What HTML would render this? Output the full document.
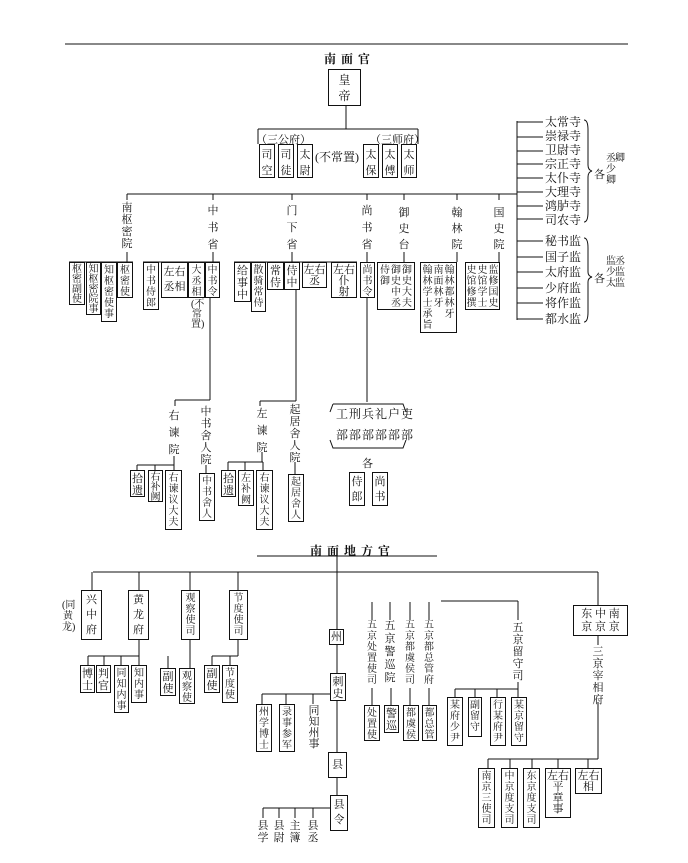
<!DOCTYPE html>
<html><head><meta charset="utf-8">
<style>
html,body{margin:0;padding:0;background:#fff;}
#c{position:relative;width:688px;height:863px;overflow:hidden;background:#fff;font-family:"Liberation Serif","Noto Serif CJK SC","Noto Sans CJK SC",serif;color:#111;}
svg{position:absolute;left:0;top:0;}
.bx{position:absolute;border:1px solid #111;background:#fff;display:flex;flex-direction:row;justify-content:center;align-items:flex-start;padding-top:2px;box-sizing:border-box;gap:1px;font-size:11px;line-height:13px;}
.bx span{display:block;width:11px;word-break:break-all;text-align:center;}
.bx[style*="line-height:11px"],.bx[style*="line-height:10px"]{font-size:10px;}
.bx[style*="line-height:11px"] span,.bx[style*="line-height:10px"] span{width:10px;}
.lb{position:absolute;font-size:11px;width:12px;word-break:break-all;text-align:center;line-height:13px;}
.t{position:absolute;font-size:12px;white-space:nowrap;font-weight:bold;letter-spacing:5px;}
.s{position:absolute;font-size:11px;white-space:nowrap;}
.hz{position:absolute;border:1px solid #111;background:#fff;box-sizing:border-box;font-size:11px;line-height:13px;text-align:center;padding-top:2px;}
</style></head><body><div id="c">
<svg width="688" height="863" stroke="#111" stroke-width="1" fill="none">
<line x1="65" y1="44" x2="628" y2="44"/>
<line x1="346" y1="105" x2="346" y2="129"/>
<line x1="258" y1="129" x2="418" y2="129"/>
<line x1="258" y1="129" x2="258" y2="144"/><line x1="418" y1="129" x2="418" y2="144"/>
<line x1="127" y1="194" x2="517" y2="194"/>
<line x1="517" y1="121" x2="517" y2="320"/>
<g>
<line x1="517" y1="122" x2="543" y2="122"/><line x1="517" y1="137" x2="543" y2="137"/><line x1="517" y1="151" x2="543" y2="151"/><line x1="517" y1="164" x2="543" y2="164"/><line x1="517" y1="178" x2="543" y2="178"/><line x1="517" y1="192" x2="543" y2="192"/><line x1="517" y1="206" x2="543" y2="206"/><line x1="517" y1="219" x2="543" y2="219"/>
<line x1="517" y1="241" x2="543" y2="241"/><line x1="517" y1="257" x2="543" y2="257"/><line x1="517" y1="272" x2="543" y2="272"/><line x1="517" y1="288" x2="543" y2="288"/><line x1="517" y1="303" x2="543" y2="303"/><line x1="517" y1="319" x2="543" y2="319"/>
<path d="M584 120 Q588 120 588 130 L588 165 Q588 170 592 171 Q588 172 588 177 L588 212 Q588 222 584 222"/>
<path d="M584 238 Q588 238 588 248 L588 272 Q588 276 592 277 Q588 278 588 282 L588 312 Q588 322 584 322"/>
</g>
<line x1="127" y1="194" x2="127" y2="200"/><line x1="213" y1="194" x2="213" y2="200"/><line x1="292" y1="194" x2="292" y2="200"/><line x1="367" y1="194" x2="367" y2="200"/><line x1="404" y1="194" x2="404" y2="200"/><line x1="457" y1="194" x2="457" y2="200"/><line x1="499" y1="194" x2="499" y2="200"/>
<line x1="127" y1="252" x2="127" y2="262"/><line x1="213" y1="252" x2="213" y2="262"/><line x1="292" y1="252" x2="292" y2="262"/><line x1="367" y1="252" x2="367" y2="262"/><line x1="404" y1="252" x2="404" y2="262"/><line x1="457" y1="252" x2="457" y2="262"/><line x1="499" y1="252" x2="499" y2="262"/>
<line x1="69" y1="262" x2="133" y2="262"/><line x1="143" y1="262" x2="220" y2="262"/><line x1="234" y1="262" x2="357" y2="262"/>
<line x1="210" y1="298" x2="210" y2="400"/><line x1="175" y1="400" x2="210" y2="400"/><line x1="175" y1="400" x2="175" y2="406"/>
<line x1="296" y1="290" x2="296" y2="401"/><line x1="260" y1="401" x2="296" y2="401"/><line x1="260" y1="401" x2="260" y2="406"/>
<line x1="367" y1="298" x2="367" y2="402"/>
<path d="M333 404 L330 412 M330 440 L333 448 L403 448 L406 440 M406 412 L403 404 L333 404"/>
<line x1="174" y1="456" x2="174" y2="465"/><line x1="137" y1="465" x2="174" y2="465"/><line x1="137" y1="465" x2="137" y2="470"/><line x1="155" y1="465" x2="155" y2="470"/><line x1="174" y1="465" x2="174" y2="470"/>
<line x1="206" y1="465" x2="206" y2="473"/>
<line x1="262" y1="452" x2="262" y2="462"/><line x1="228" y1="462" x2="263" y2="462"/><line x1="228" y1="462" x2="228" y2="470"/><line x1="245" y1="462" x2="245" y2="470"/><line x1="263" y1="462" x2="263" y2="470"/>
<line x1="295" y1="462" x2="295" y2="474"/>
<line x1="257" y1="556" x2="437" y2="556"/>
<line x1="337" y1="556" x2="337" y2="629"/>
<line x1="93" y1="572" x2="598" y2="572"/>
<line x1="92" y1="572" x2="92" y2="590"/><line x1="139" y1="572" x2="139" y2="590"/><line x1="190" y1="572" x2="190" y2="590"/><line x1="238" y1="572" x2="238" y2="590"/>
<line x1="139" y1="640" x2="139" y2="656"/><line x1="88" y1="656" x2="139" y2="656"/><line x1="88" y1="656" x2="88" y2="665"/><line x1="104" y1="656" x2="104" y2="665"/><line x1="121" y1="656" x2="121" y2="665"/><line x1="139" y1="656" x2="139" y2="665"/>
<line x1="190" y1="640" x2="190" y2="668"/><line x1="168" y1="656" x2="168" y2="668"/>
<line x1="238" y1="640" x2="238" y2="656"/><line x1="212" y1="656" x2="238" y2="656"/><line x1="212" y1="656" x2="212" y2="665"/><line x1="230" y1="656" x2="230" y2="665"/>
<line x1="337" y1="645" x2="337" y2="673"/><line x1="337" y1="700" x2="337" y2="752"/><line x1="337" y1="777" x2="337" y2="795"/>
<line x1="262" y1="694" x2="330" y2="694"/><line x1="262" y1="694" x2="262" y2="704"/><line x1="286" y1="694" x2="286" y2="704"/><line x1="313" y1="694" x2="313" y2="704"/>
<line x1="263" y1="808" x2="330" y2="808"/><line x1="263" y1="808" x2="263" y2="818"/><line x1="279" y1="808" x2="279" y2="818"/><line x1="295" y1="808" x2="295" y2="818"/><line x1="313" y1="808" x2="313" y2="818"/>
<line x1="372" y1="602" x2="372" y2="620"/><line x1="390" y1="602" x2="390" y2="620"/><line x1="410" y1="602" x2="410" y2="620"/><line x1="429" y1="602" x2="429" y2="620"/>
<line x1="372" y1="688" x2="372" y2="705"/><line x1="391" y1="688" x2="391" y2="705"/><line x1="410" y1="688" x2="410" y2="705"/><line x1="429" y1="688" x2="429" y2="705"/>
<line x1="441" y1="601" x2="518" y2="601"/><line x1="518" y1="601" x2="518" y2="620"/><line x1="518" y1="682" x2="518" y2="697"/>
<line x1="455" y1="689" x2="518" y2="689"/><line x1="455" y1="689" x2="455" y2="697"/><line x1="475" y1="689" x2="475" y2="697"/><line x1="497" y1="689" x2="497" y2="697"/>
<line x1="598" y1="572" x2="598" y2="605"/><line x1="598" y1="635" x2="598" y2="645"/><line x1="598" y1="702" x2="598" y2="759"/>
<line x1="488" y1="759" x2="598" y2="759"/><line x1="488" y1="759" x2="488" y2="768"/><line x1="510" y1="759" x2="510" y2="768"/><line x1="532" y1="759" x2="532" y2="768"/><line x1="558" y1="759" x2="558" y2="768"/><line x1="588" y1="759" x2="588" y2="768"/>
</svg>

<div class="t" style="left:324px;top:50px;">南面官</div>
<div class="bx" style="left:328px;top:69px;width:33px;height:37px;line-height:16px;font-size:12px;"><span style="width:12px">皇帝</span></div>

<div class="s" style="left:256px;top:131px;">（三公府）</div>
<div class="s" style="left:370px;top:131px;">（三师府）</div>
<div class="bx" style="left:259px;top:144px;width:16px;height:34px;line-height:16px;"><span>司空</span></div>
<div class="bx" style="left:278px;top:144px;width:16px;height:34px;line-height:16px;"><span>司徒</span></div>
<div class="bx" style="left:297px;top:144px;width:16px;height:34px;line-height:16px;"><span>太尉</span></div>
<div class="s" style="left:315px;top:148px;font-size:12px;">(不常置)</div>
<div class="bx" style="left:363px;top:144px;width:16px;height:34px;line-height:16px;"><span>太保</span></div>
<div class="bx" style="left:382px;top:144px;width:16px;height:34px;line-height:16px;"><span>太傅</span></div>
<div class="bx" style="left:401px;top:144px;width:16px;height:34px;line-height:16px;"><span>太师</span></div>

<div class="s" style="left:545px;top:115px;font-size:12px;line-height:14px;">太常寺<br>崇禄寺<br>卫尉寺<br>宗正寺<br>太仆寺<br>大理寺<br>鸿胪寺<br>司农寺</div>
<div class="s" style="left:545px;top:234px;font-size:12px;line-height:15.6px;">秘书监<br>国子监<br>太府监<br>少府监<br>将作监<br>都水监</div>
<div class="s" style="left:594px;top:166px;">各</div>
<div class="lb" style="left:605px;top:153px;font-size:10px;line-height:11px;">丞少卿</div>
<div class="lb" style="left:614px;top:153px;font-size:10px;line-height:11px;">卿</div>
<div class="s" style="left:594px;top:270px;">各</div>
<div class="lb" style="left:614px;top:256px;font-size:10px;line-height:11px;">丞监监</div>
<div class="lb" style="left:605px;top:256px;font-size:10px;line-height:11px;">监少太</div>

<div class="lb" style="left:121px;top:202px;line-height:12px;">南枢密院</div>
<div class="lb" style="left:207px;top:203px;line-height:17px;">中书省</div>
<div class="lb" style="left:286px;top:203px;line-height:17px;">门下省</div>
<div class="lb" style="left:361px;top:203px;line-height:17px;">尚书省</div>
<div class="lb" style="left:398px;top:205px;line-height:16px;">御史台</div>
<div class="lb" style="left:451px;top:205px;line-height:16px;">翰林院</div>
<div class="lb" style="left:493px;top:205px;line-height:16px;">国史院</div>

<div class="bx" style="left:69px;top:262px;width:16px;height:43px;line-height:10px;"><span>枢密副使</span></div>
<div class="bx" style="left:86px;top:262px;width:15px;height:53px;line-height:10px;"><span>知枢密院事</span></div>
<div class="bx" style="left:101px;top:262px;width:16px;height:60px;line-height:11px;"><span>知枢密使事</span></div>
<div class="bx" style="left:117px;top:262px;width:16px;height:36px;line-height:11px;"><span>枢密使</span></div>
<div class="bx" style="left:143px;top:262px;width:16px;height:48px;line-height:11px;"><span>中书侍郎</span></div>
<div class="hz" style="left:161px;top:262px;width:27px;height:36px;line-height:15px;">左右<br>丞相</div>
<div class="bx" style="left:188px;top:262px;width:17px;height:36px;line-height:11px;"><span>大丞相</span></div>
<div class="lb" style="left:191px;top:300px;line-height:10px;font-size:10px;">(不常置)</div>
<div class="bx" style="left:205px;top:262px;width:15px;height:36px;line-height:11px;"><span>中书令</span></div>
<div class="bx" style="left:234px;top:262px;width:17px;height:40px;line-height:12px;"><span>给事中</span></div>
<div class="bx" style="left:251px;top:262px;width:15px;height:50px;line-height:11px;"><span>散骑常侍</span></div>
<div class="bx" style="left:267px;top:262px;width:17px;height:28px;line-height:12px;"><span>常侍</span></div>
<div class="bx" style="left:284px;top:262px;width:16px;height:28px;line-height:12px;"><span>侍中</span></div>
<div class="hz" style="left:302px;top:262px;width:25px;height:26px;line-height:11px;">左右<br>丞</div>
<div class="hz" style="left:331px;top:262px;width:26px;height:36px;line-height:11px;">左右<br>仆<br>射</div>
<div class="bx" style="left:360px;top:262px;width:15px;height:36px;line-height:11px;"><span>尚书令</span></div>
<div class="bx" style="left:377px;top:262px;width:38px;height:48px;line-height:11px;"><span>侍御</span><span>御史中丞</span><span>御史大夫</span></div>
<div class="bx" style="left:420px;top:262px;width:37px;height:71px;line-height:11px;"><span>翰林学士承旨</span><span>南面林牙</span><span>翰林都林牙</span></div>
<div class="bx" style="left:465px;top:262px;width:35px;height:48px;line-height:11px;"><span>史馆修撰</span><span>史馆学士</span><span>监修国史</span></div>

<div class="lb" style="left:168px;top:408px;line-height:17px;">右谏院</div>
<div class="lb" style="left:200px;top:406px;line-height:12px;">中书舍人院</div>
<div class="bx" style="left:130px;top:470px;width:15px;height:27px;line-height:12px;"><span>拾遗</span></div>
<div class="bx" style="left:148px;top:470px;width:15px;height:32px;line-height:10px;"><span>右补阙</span></div>
<div class="bx" style="left:165px;top:470px;width:17px;height:60px;line-height:11px;"><span>右谏议大夫</span></div>
<div class="bx" style="left:199px;top:473px;width:16px;height:48px;line-height:11px;"><span>中书舍人</span></div>
<div class="lb" style="left:256px;top:406px;line-height:17px;">左谏院</div>
<div class="lb" style="left:289px;top:404px;line-height:12px;">起居舍人院</div>
<div class="bx" style="left:221px;top:470px;width:15px;height:27px;line-height:12px;"><span>拾遗</span></div>
<div class="bx" style="left:238px;top:470px;width:16px;height:36px;line-height:11px;"><span>左补阙</span></div>
<div class="bx" style="left:256px;top:470px;width:17px;height:60px;line-height:11px;"><span>右谏议大夫</span></div>
<div class="bx" style="left:288px;top:474px;width:16px;height:48px;line-height:11px;"><span>起居舍人</span></div>
<div class="s" style="left:336px;top:405px;font-size:12px;letter-spacing:1px;">工刑兵礼户吏</div>
<div class="s" style="left:336px;top:426px;font-size:12px;letter-spacing:1px;">部部部部部部</div>
<div class="s" style="left:362px;top:455px;">各</div>
<div class="bx" style="left:349px;top:472px;width:16px;height:34px;line-height:15px;"><span>侍郎</span></div>
<div class="bx" style="left:372px;top:472px;width:16px;height:34px;line-height:15px;"><span>尚书</span></div>

<div class="t" style="left:310px;top:542px;">南面地方官</div>
<div class="bx" style="left:81px;top:590px;width:21px;height:50px;line-height:15px;"><span>兴中府</span></div>
<div class="lb" style="left:62px;top:600px;line-height:11px;font-size:10px;">(同黄龙)</div>
<div class="bx" style="left:128px;top:590px;width:21px;height:50px;line-height:15px;"><span>黄龙府</span></div>
<div class="bx" style="left:181px;top:590px;width:19px;height:50px;line-height:11px;"><span>观察使司</span></div>
<div class="bx" style="left:229px;top:590px;width:19px;height:50px;line-height:11px;"><span>节度使司</span></div>
<div class="bx" style="left:80px;top:665px;width:15px;height:28px;line-height:12px;"><span>博士</span></div>
<div class="bx" style="left:96px;top:665px;width:15px;height:28px;line-height:12px;"><span>判官</span></div>
<div class="bx" style="left:114px;top:665px;width:15px;height:48px;line-height:11px;"><span>同知内事</span></div>
<div class="bx" style="left:131px;top:665px;width:16px;height:38px;line-height:11px;"><span>知内事</span></div>
<div class="bx" style="left:160px;top:668px;width:16px;height:28px;line-height:12px;"><span>副使</span></div>
<div class="bx" style="left:179px;top:668px;width:16px;height:36px;line-height:11px;"><span>观察使</span></div>
<div class="bx" style="left:204px;top:665px;width:16px;height:28px;line-height:12px;"><span>副使</span></div>
<div class="bx" style="left:222px;top:665px;width:16px;height:38px;line-height:11px;"><span>节度使</span></div>

<div class="bx" style="left:329px;top:629px;width:15px;height:16px;padding-top:1px;"><span>州</span></div>
<div class="bx" style="left:330px;top:673px;width:16px;height:28px;line-height:12px;"><span>刺史</span></div>
<div class="bx" style="left:256px;top:704px;width:16px;height:48px;line-height:11px;"><span>州学博士</span></div>
<div class="bx" style="left:279px;top:704px;width:16px;height:48px;line-height:11px;"><span>录事参军</span></div>
<div class="lb" style="left:308px;top:706px;line-height:11px;">同知州事</div>
<div class="bx" style="left:328px;top:752px;width:19px;height:26px;padding-top:6px;"><span>县</span></div>
<div class="bx" style="left:330px;top:795px;width:18px;height:36px;line-height:15px;"><span>县令</span></div>
<div class="lb" style="left:257px;top:820px;line-height:12px;">县学</div>
<div class="lb" style="left:273px;top:820px;line-height:12px;">县尉</div>
<div class="lb" style="left:289px;top:820px;line-height:12px;">主簿</div>
<div class="lb" style="left:307px;top:820px;line-height:12px;">县丞</div>

<div class="lb" style="left:366px;top:620px;line-height:11px;font-size:10px;">五京处置使司</div>
<div class="lb" style="left:384px;top:620px;line-height:13px;">五京警巡院</div>
<div class="lb" style="left:404px;top:620px;line-height:11px;font-size:10px;">五京都虞侯司</div>
<div class="lb" style="left:423px;top:620px;line-height:11px;font-size:10px;">五京都总管府</div>
<div class="bx" style="left:364px;top:705px;width:16px;height:36px;line-height:11px;"><span>处置使</span></div>
<div class="bx" style="left:384px;top:705px;width:15px;height:28px;line-height:12px;"><span>警巡</span></div>
<div class="bx" style="left:403px;top:705px;width:16px;height:36px;line-height:11px;"><span>都虞侯</span></div>
<div class="bx" style="left:422px;top:705px;width:15px;height:36px;line-height:11px;"><span>都总管</span></div>
<div class="lb" style="left:512px;top:622px;line-height:12px;">五京留守司</div>
<div class="bx" style="left:447px;top:697px;width:16px;height:49px;line-height:11px;"><span>某府少尹</span></div>
<div class="bx" style="left:468px;top:697px;width:14px;height:40px;line-height:11px;"><span>副留守</span></div>
<div class="bx" style="left:490px;top:697px;width:16px;height:49px;line-height:11px;"><span>行某府尹</span></div>
<div class="bx" style="left:511px;top:697px;width:16px;height:49px;line-height:11px;"><span>某京留守</span></div>
<div class="hz" style="left:573px;top:605px;width:55px;height:31px;line-height:13px;">东 中 南<br>京 京 京</div>
<div class="lb" style="left:592px;top:646px;line-height:12px;">三京宰相府</div>
<div class="bx" style="left:478px;top:768px;width:17px;height:60px;line-height:11px;"><span>南京三使司</span></div>
<div class="bx" style="left:501px;top:768px;width:17px;height:60px;line-height:11px;"><span>中京度支司</span></div>
<div class="bx" style="left:523px;top:768px;width:17px;height:60px;line-height:11px;"><span>东京度支司</span></div>
<div class="hz" style="left:545px;top:768px;width:26px;height:50px;line-height:11px;">左右<br>平<br>章<br>事</div>
<div class="hz" style="left:575px;top:768px;width:27px;height:26px;line-height:11px;">左右<br>相</div>
</div></body></html>
